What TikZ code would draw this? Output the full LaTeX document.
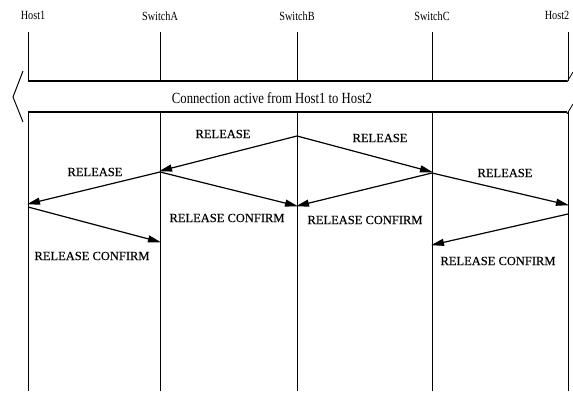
\documentclass[tikz,border=0pt]{standalone}
\usepackage{fontspec}
\setmainfont{Liberation Serif}
\newfontfamily\headfont[FakeStretch=0.82]{Liberation Serif}
\newfontfamily\msgfont[FakeBold=0.4]{Liberation Serif}
\usetikzlibrary{arrows.meta}
\begin{document}
\begin{tikzpicture}[x=1pt,y=-1pt,
  lifeline/.style={line width=1pt,black},
  barline/.style={line width=1.4pt,black},
  msg/.style={line width=1.2pt,black,-{Triangle[length=13pt,width=7pt]},shorten >=-1pt},
  msglabel/.style={font=\msgfont\fontsize{12.5}{13}\selectfont,inner sep=0pt},
  headlabel/.style={font=\headfont\fontsize{12.5}{13}\selectfont,inner sep=0pt},
  barlabel/.style={font=\headfont\fontsize{15.5}{16}\selectfont,inner sep=0pt}]
\useasboundingbox (0,0) rectangle (573,395);
\fill[white] (0,0) rectangle (573,395);

% lifeline positions
\foreach \n/\x in {h1/28,sa/160,sb/297,sc/432,h2/568}{
  \coordinate (\n-top) at (\x,32);
  \coordinate (\n-bartop) at (\x,81);
  \coordinate (\n-barbot) at (\x,112);
  \coordinate (\n-end) at (\x,391);
  \draw[lifeline] (\n-top) -- (\n-bartop);
  \draw[lifeline] (\n-barbot) -- (\n-end);
}

% column headings
\node[headlabel] (lh1) at (33,15) {Host1};
\node[headlabel] (lsa) at (160,16) {SwitchA};
\node[headlabel] (lsb) at (297,16) {SwitchB};
\node[headlabel] (lsc) at (432,16) {SwitchC};
\node[headlabel] (lh2) at (557,15) {Host2};

% active connection band
\coordinate (band-right-top) at (567,81);
\coordinate (band-right-bot) at (567,112);
\draw[barline] (h1-bartop) -- (band-right-top);
\draw[barline] (h1-barbot) -- (band-right-bot);
\draw[line width=1pt] (23,71) -- (13,97) -- (23,122);
\draw[line width=0.8pt] (567,82) -- (573,72);
\draw[line width=0.8pt] (567,114) -- (573,104);
\node[barlabel] (conn) at (272,98) {Connection active from Host1 to Host2};

% message end points
\coordinate (b1) at (297,136);
\coordinate (a1) at (160,171);
\coordinate (c1) at (432,172);
\coordinate (a2) at (160,172);
\coordinate (h1a) at (28,204);
\coordinate (b2) at (297,206);
\coordinate (c2) at (432,173);
\coordinate (h2a) at (568,205);
\coordinate (h1b) at (28,207);
\coordinate (a3) at (160,242);
\coordinate (h2b) at (568,214);
\coordinate (c3) at (432,245);

% messages
\draw[msg] (b1) -- (a1);
\draw[msg] (b1) -- (c1);
\draw[msg] (a2) -- (h1a);
\draw[msg] (a2) -- (b2);
\draw[msg] (c2) -- (b2);
\draw[msg] (c2) -- (h2a);
\draw[msg] (h1b) -- (a3);
\draw[msg] (h2b) -- (c3);

% message labels
\node[msglabel] (m1) at (223,134) {RELEASE};
\node[msglabel] (m2) at (380,138) {RELEASE};
\node[msglabel] (m3) at (95,172) {RELEASE};
\node[msglabel] (m4) at (505,173) {RELEASE};
\node[msglabel] (m5) at (227,218) {RELEASE CONFIRM};
\node[msglabel] (m6) at (365,220) {RELEASE CONFIRM};
\node[msglabel] (m7) at (92,256) {RELEASE CONFIRM};
\node[msglabel] (m8) at (498,261) {RELEASE CONFIRM};
\end{tikzpicture}
\end{document}
